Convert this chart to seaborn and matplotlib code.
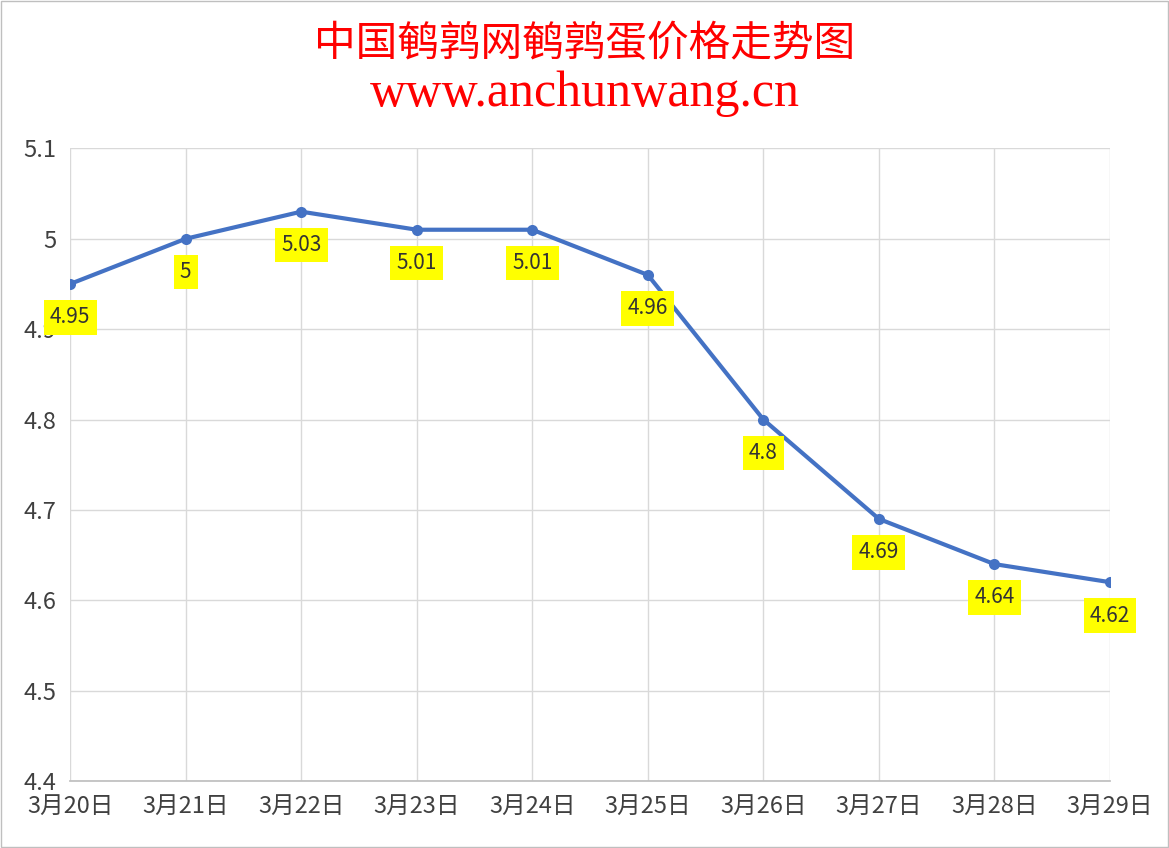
import matplotlib
matplotlib.use("Agg")
import matplotlib.pyplot as plt
import seaborn as sns
import pandas as pd

dates = ["3月20日", "3月21日", "3月22日", "3月23日", "3月24日",
         "3月25日", "3月26日", "3月27日", "3月28日", "3月29日"]
prices = [4.95, 5, 5.03, 5.01, 5.01, 4.96, 4.8, 4.69, 4.64, 4.62]
labels = ["4.95", "5", "5.03", "5.01", "5.01", "4.96", "4.8", "4.69", "4.64", "4.62"]

sns.set_theme(style="whitegrid")
plt.rcParams['font.family'] = ['Noto Sans CJK SC', 'DejaVu Sans']

df = pd.DataFrame({"x": range(len(dates)), "price": prices})
fig = plt.figure(figsize=(11.69, 8.48), dpi=100)
ax = fig.add_axes([0.060, 0.079, 0.8895, 0.746])
sns.lineplot(data=df, x="x", y="price", ax=ax, color="#4472C4", linewidth=3,
             marker="o", markersize=8, markeredgewidth=0)

for i, (p, t) in enumerate(zip(prices, labels)):
    ax.annotate(t, (i, p), xytext=(0, -24), textcoords="offset points",
                ha="center", va="center", fontsize=15, color="#333333",
                bbox=dict(boxstyle="square,pad=0.3", fc="#FFFF00", ec="none"))

ax.set_xlim(0, len(dates) - 1)
ax.set_ylim(4.4, 5.1)
ax.set_yticks([4.4, 4.5, 4.6, 4.7, 4.8, 4.9, 5.0, 5.1])
ax.set_yticklabels(["4.4", "4.5", "4.6", "4.7", "4.8", "4.9", "5", "5.1"])
ax.set_xticks(range(len(dates)))
ax.set_xticklabels(dates)
ax.tick_params(axis="both", labelsize=17, colors="#404040", pad=4)
ax.set_xlabel("")
ax.set_ylabel("")
ax.grid(True, color="#D9D9D9", linewidth=1)
for s in ["top", "right", "left"]:
    ax.spines[s].set_visible(False)
ax.spines["bottom"].set_color("#BFBFBF")

fig.text(0.5, 0.948, "中国鹌鹑网鹌鹑蛋价格走势图", ha="center", va="center",
         fontsize=30, color="#FF0000")
fig.text(0.5, 0.890, "www.anchunwang.cn", ha="center", va="center",
         fontsize=36, color="#FF0000", family="Liberation Serif")
fig.patches.append(plt.Rectangle((0.001, 0.001), 0.998, 0.998, transform=fig.transFigure,
                                 fill=False, ec="#BFBFBF", lw=1))
fig.savefig("out.png", dpi=100)
